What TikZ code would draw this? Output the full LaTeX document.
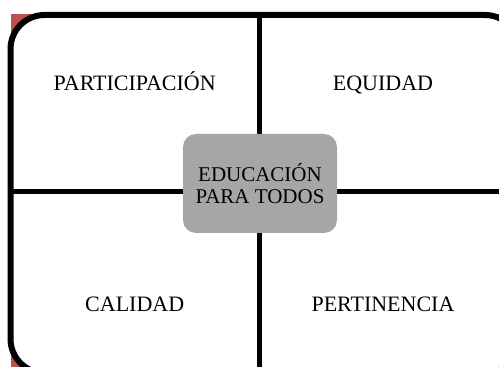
\documentclass[tikz,border=0pt]{standalone}
\usepackage{fontspec}
\setmainfont{Liberation Serif}
\usetikzlibrary{positioning}
\definecolor{cornerred}{RGB}{192,80,77}
\definecolor{hubgray}{RGB}{166,166,166}
\tikzset{%
  frame/.style={draw=black,line width=6pt,fill=white,rounded corners=34pt},
  divider/.style={draw=black,line width=5pt},
  hub/.style={fill=hubgray,rounded corners=13pt,minimum width=154pt,minimum height=99pt,
    align=center,font=\fontsize{21}{22}\selectfont,inner sep=0pt},
  quad/.style={font=\fontsize{22}{22}\selectfont,inner sep=0pt,anchor=base}
}

\begin{document}
\begin{tikzpicture}[x=1pt,y=1pt]
  \useasboundingbox (0,0) rectangle (499,367);
  \clip (0,0) rectangle (499,367);

  % background and frame
  \fill[cornerred] (10.5,-6) rectangle (519,353);
  \path[frame] (10.5,-6) rectangle (519,352);

  % cross
  \coordinate (top) at (259,352);
  \coordinate (bottom) at (259,-6);
  \coordinate (left) at (10.5,175);
  \coordinate (right) at (519,175);
  \draw[divider] (top) -- (bottom);
  \draw[divider] (left) -- (right);

  \node[hub] (efa) at (260,183.5) {EDUCACIÓN\\PARA TODOS};

  \node[quad] (part) at (134.7,276.5) {PARTICIPACIÓN};
  \node[quad] (equi) at (383,276.5) {EQUIDAD};
  \node[quad] (cali) at (134.7,55.5) {CALIDAD};
  \node[quad] (pert) at (383,55.5) {PERTINENCIA};
\end{tikzpicture}
\end{document}
